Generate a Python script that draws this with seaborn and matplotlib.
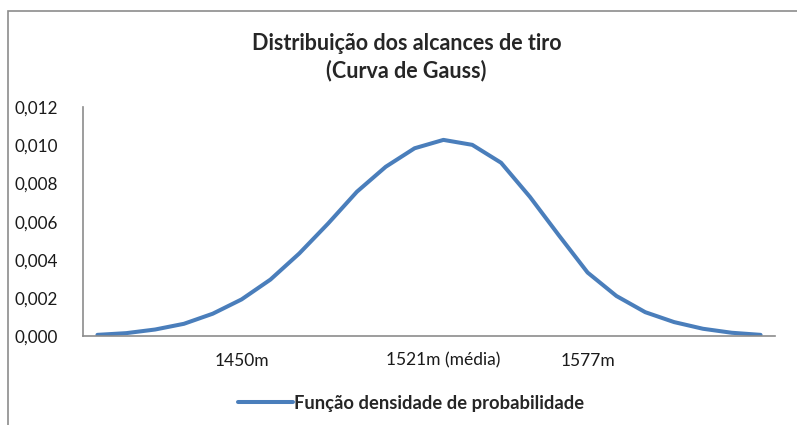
import matplotlib
matplotlib.use("Agg")
import matplotlib.pyplot as plt
import numpy as np
import pandas as pd
import seaborn as sns
from matplotlib.patches import Rectangle

# 24 classes de alcance (categorias), densidade
densidade = [
    0.00006, 0.00015, 0.00034, 0.00064, 0.00117, 0.00192,
    0.00296, 0.00433, 0.00590, 0.00757, 0.00888, 0.00985,
    0.01029, 0.01003, 0.00909, 0.00730, 0.00529, 0.00333,
    0.00210, 0.00125, 0.00073, 0.00038, 0.00017, 0.00006,
]
rotulos_x = {5: "1450m", 12: "1521m (média)", 17: "1577m"}
y_ticks = [0.000, 0.002, 0.004, 0.006, 0.008, 0.010, 0.012]
serie = "Função densidade de probabilidade"
titulo = "Distribuição dos alcances de tiro\n(Curva de Gauss)"

df = pd.DataFrame({"classe": np.arange(len(densidade)), "densidade": densidade, "serie": serie})

sns.set_theme(style="white")
plt.rcParams["font.family"] = ["Lato", "DejaVu Sans"]

fig = plt.figure(figsize=(7.97, 4.25), dpi=100)
ax = fig.add_axes([83 / 797, 89 / 425, 692 / 797, 228.7 / 425])

sns.lineplot(data=df, x="classe", y="densidade", hue="serie",
             palette=["#4A7EBB"], linewidth=2.9, ax=ax, legend=True)

ax.set_xlim(-0.5, len(densidade) - 0.5)
ax.set_ylim(0, 0.012)
ax.set_yticks(y_ticks)
ax.set_yticklabels([f"{v:.3f}".replace(".", ",") for v in y_ticks], fontsize=12.3)
ax.set_xticks(list(rotulos_x.keys()))
ax.set_xticklabels(list(rotulos_x.values()), fontsize=12.5)
ax.tick_params(axis="both", length=0, colors="#1a1a1a")
ax.tick_params(axis="y", pad=18)
ax.tick_params(axis="x", pad=12)
ax.set_xlabel("")
ax.set_ylabel("")

for side in ["top", "right"]:
    ax.spines[side].set_visible(False)
for side in ["left", "bottom"]:
    ax.spines[side].set_color("#8c8c8c")
    ax.spines[side].set_linewidth(1.2)

fig.text(0.51, 1 - 57 / 425, titulo, ha="center", va="center",
         fontsize=15.5, fontweight="bold", linespacing=1.35)

ax.legend(loc="center", bbox_to_anchor=(411 / 797, 1 - 403 / 425),
          bbox_transform=fig.transFigure, frameon=False,
          prop={"weight": "bold", "size": 13.2}, handlelength=3.0,
          handletextpad=0.1)

# moldura do gráfico (só topo e esquerda visíveis)
fig.add_artist(Rectangle((8 / 797, -0.2), 1.2, 1.2 - 11 / 425,
                         transform=fig.transFigure, fill=False,
                         edgecolor="#8c8c8c", linewidth=1.2))

fig.savefig("out.png", dpi=100, facecolor="white")
plt.close(fig)
